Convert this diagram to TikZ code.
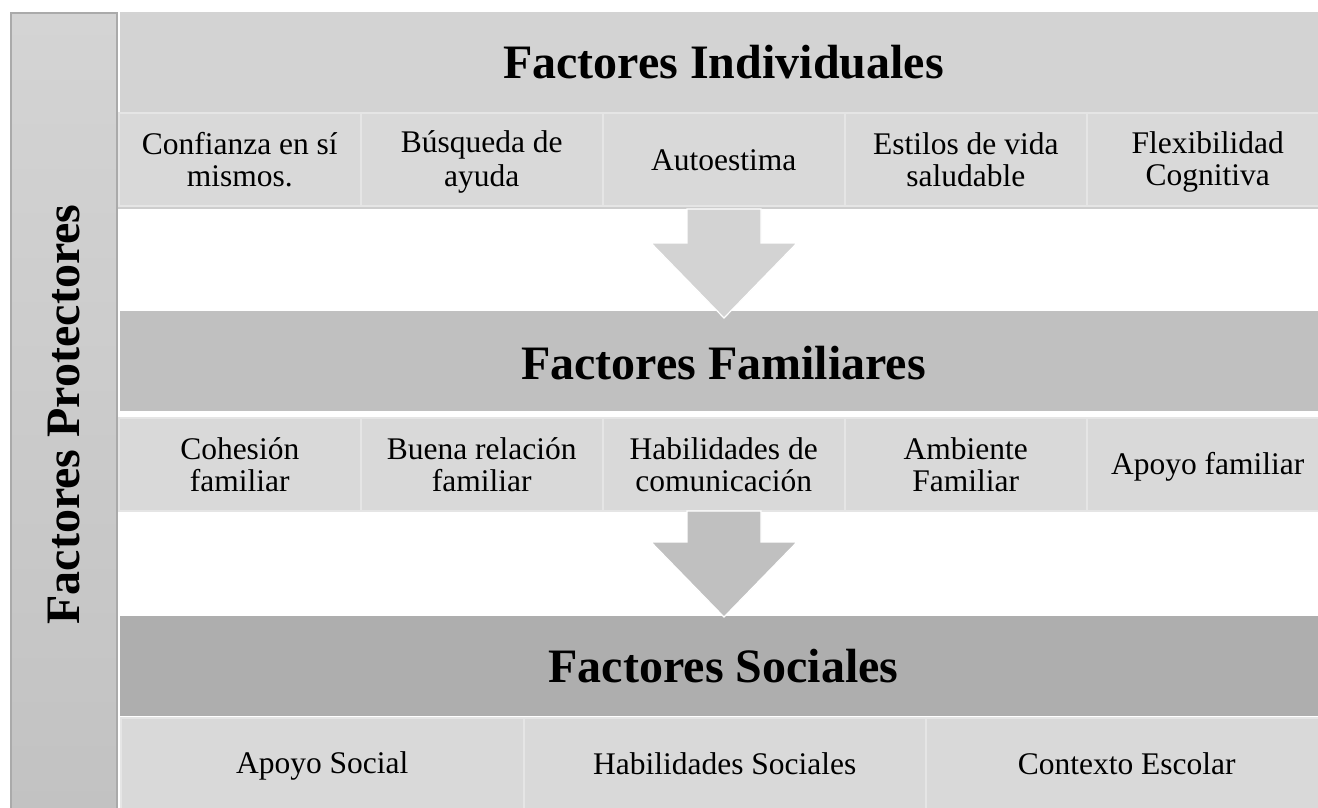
\documentclass[tikz,border=0pt]{standalone}
\usepackage{fontspec}
\setmainfont{Liberation Serif}
\definecolor{hA}{RGB}{211,211,211}
\definecolor{hB}{RGB}{192,192,192}
\definecolor{hC}{RGB}{174,174,174}
\definecolor{cellc}{RGB}{217,217,217}
\definecolor{celledge}{RGB}{229,229,229}
\definecolor{shadowc}{RGB}{205,205,205}
\definecolor{baredge}{RGB}{170,170,170}
\definecolor{barTop}{RGB}{212,212,212}
\definecolor{barBot}{RGB}{194,194,194}
\newcommand\cst{\rule[-5pt]{0pt}{32pt}}
\begin{document}
\begin{tikzpicture}[x=1pt,y=-1pt,
  header/.style={fill=#1, draw=none, minimum width=1206pt, minimum height=100pt,
    anchor=north west, inner sep=0pt},
  headtext/.style={inner sep=0pt, font=\fontsize{48}{52}\selectfont\bfseries},
  cellbox/.style={fill=cellc, draw=celledge, line width=1.5pt, minimum width=#1,
    anchor=north west, inner sep=0pt, align=center,
    font=\fontsize{31.5}{32.5}\selectfont},
  rowshadow/.style={fill=shadowc, draw=none},
  blockarrow/.style={fill=#1, draw=white, line width=1.2pt, line join=miter}
]
\clip (0,0) rectangle (1318,807);
\fill[white] (0,0) rectangle (1318,807);

% left bar
\node[draw=baredge, line width=1.5pt, top color=barTop, bottom color=barBot,
  anchor=north west, minimum width=106pt, minimum height=800pt, inner sep=0pt] (bar) at (10,12) {};
\node[rotate=90, headtext] (barlabel) at (64.5,414.5) {Factores Protectores};

% level 1
\node[header=hA] (h1) at (120,12) {};
\node[headtext] (h1t) at (723.5,62) {Factores Individuales};
\fill[rowshadow] (118,205) rectangle (1318,209);
\node[cellbox=242pt, minimum height=93pt] (a1) at (118,112) {\cst Confianza en sí\\\cst mismos.};
\node[cellbox=242pt, minimum height=93pt] (a2) at (360,112) {\cst Búsqueda de\\\cst ayuda};
\node[cellbox=242pt, minimum height=93pt] (a3) at (602,112) {\cst Autoestima};
\node[cellbox=242pt, minimum height=93pt] (a4) at (844,112) {\cst Estilos de vida\\\cst saludable};
\node[cellbox=242pt, minimum height=93pt] (a5) at (1086,112) {\cst Flexibilidad\\\cst Cognitiva};

% level 2
\node[header=hB] (h2) at (120,311) {};
\node[headtext] (h2t) at (723.5,363) {Factores Familiares};
\fill[rowshadow] (118,509) rectangle (1318,512);
\node[cellbox=242pt, minimum height=93pt] (b1) at (118,417) {\cst Cohesión\\\cst familiar};
\node[cellbox=242pt, minimum height=93pt] (b2) at (360,417) {\cst Buena relación\\\cst familiar};
\node[cellbox=242pt, minimum height=93pt] (b3) at (602,417) {\cst Habilidades de\\\cst comunicación};
\node[cellbox=242pt, minimum height=93pt] (b4) at (844,417) {\cst Ambiente\\\cst Familiar};
\node[cellbox=242pt, minimum height=93pt] (b5) at (1086,417) {\cst Apoyo familiar};

% level 3
\node[header=hC] (h3) at (120,616) {};
\node[headtext] (h3t) at (723.5,666) {Factores Sociales};
\node[cellbox=403pt, minimum height=92pt] (c1) at (120,717) {\cst Apoyo Social};
\node[cellbox=402pt, minimum height=92pt] (c2) at (523,717) {\cst Habilidades Sociales};
\node[cellbox=402pt, minimum height=92pt] (c3) at (925,717) {\cst Contexto Escolar};

% block arrows
\path[blockarrow=hA] (687,209) -- (761,209) -- (761,243) -- (797,243) -- (724,318)
  -- (651,243) -- (687,243) -- cycle;
\path[blockarrow=hB] (687,511) -- (761,511) -- (761,542) -- (797,542) -- (724,617)
  -- (651,542) -- (687,542) -- cycle;
\end{tikzpicture}
\end{document}
